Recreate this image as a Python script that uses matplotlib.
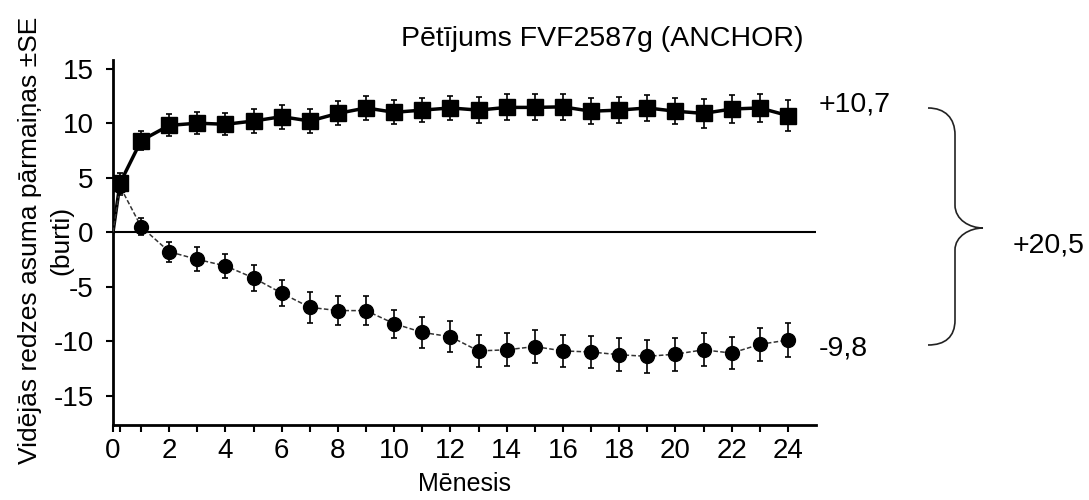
import numpy as np
import matplotlib.pyplot as plt
from matplotlib.path import Path
from matplotlib.patches import PathPatch

plt.rcParams['font.family'] = ['Liberation Sans', 'DejaVu Sans']
plt.rcParams['axes.unicode_minus'] = False

# months (0.25 = first week)
months = [0.25, 1, 2, 3, 4, 5, 6, 7, 8, 9, 10, 11, 12, 13, 14, 15, 16,
          17, 18, 19, 20, 21, 22, 23, 24]

# squares (upper series)
sq_mean = [4.5, 8.4, 9.8, 10.0, 9.9, 10.2, 10.6, 10.2, 10.9, 11.4, 11.0,
           11.2, 11.4, 11.2, 11.45, 11.45, 11.5, 11.1, 11.2, 11.4, 11.1,
           10.9, 11.3, 11.4, 10.7]
sq_se = [0.9, 0.9, 1.0, 1.0, 1.0, 1.1, 1.1, 1.1, 1.1, 1.1, 1.1, 1.1, 1.1,
         1.2, 1.2, 1.2, 1.2, 1.2, 1.2, 1.2, 1.2, 1.3, 1.3, 1.3, 1.4]

# circles (lower series)
ci_mean = [4.2, 0.5, -1.8, -2.5, -3.1, -4.2, -5.6, -6.9, -7.2, -7.2, -8.4,
           -9.2, -9.6, -10.9, -10.8, -10.5, -10.9, -11.0, -11.25, -11.4,
           -11.2, -10.8, -11.1, -10.3, -9.9]
ci_se = [0.8, 0.8, 0.9, 1.1, 1.1, 1.2, 1.2, 1.4, 1.3, 1.3, 1.3, 1.4, 1.4,
         1.5, 1.5, 1.5, 1.5, 1.5, 1.5, 1.5, 1.5, 1.5, 1.5, 1.5, 1.6]

title = 'Pētījums FVF2587g (ANCHOR)'
ylab = 'Vidējās redzes asuma pārmaiņas ±SE'
ylab2 = '(burti)'
xlab = 'Mēnesis'
end_up = '+10,7'
end_dn = '-9,8'
diff_lab = '+20,5'

fig = plt.figure(figsize=(10.89, 5), dpi=100)
ax = fig.add_axes([113/1089, 75/500, 703/1089, 365/500])

# lines from origin
ax.plot([0] + months, [0] + sq_mean, color='black', lw=2.5, zorder=3)
ax.plot([0] + months, [0] + ci_mean, color='#333333', lw=1.1,
        ls=(0, (3, 1.5)), zorder=3)

ax.errorbar(months, sq_mean, yerr=sq_se, fmt='s', color='black', ms=11.5,
            elinewidth=1.2, capsize=2.5, capthick=1.2, zorder=4)
ax.errorbar(months, ci_mean, yerr=ci_se, fmt='o', color='black', ms=10,
            elinewidth=1.2, capsize=2.5, capthick=1.2, zorder=4)

ax.axhline(0, color='black', lw=1.5, zorder=2)

ax.set_xlim(0, 25)
ax.set_ylim(-17.7, 15.8)
ax.set_yticks([15, 10, 5, 0, -5, -10, -15])
ax.set_xticks(range(0, 25, 2))
ax.set_xticks([0.25] + list(range(1, 25, 2)), minor=True)
ax.tick_params(axis='both', labelsize=20, width=1.5, length=5,
               direction='out', pad=4)
ax.tick_params(axis='y', pad=9)
ax.tick_params(axis='x', which='minor', width=1.5, length=5)
ax.spines['top'].set_visible(False)
ax.spines['right'].set_visible(False)
ax.spines['left'].set_linewidth(2)
ax.spines['bottom'].set_linewidth(2)

fig.text(602 / 1089, 1 - 39 / 500, title, fontsize=20.5, ha='center',
         va='center')

# y label in two separate lines
ax.set_ylabel(ylab, fontsize=19, va='center')
ax.yaxis.set_label_coords((30 - 113) / 703, 0.507)
ax.text((61 - 113) / 703, 0.507, ylab2, fontsize=19, rotation=90,
        ha='center', va='center', transform=ax.transAxes)

ax.set_xlabel(xlab, fontsize=18, labelpad=6)

# end labels
ax.text(25.1, sq_mean[-1] + 1.0, end_up, fontsize=20.5, va='center',
        ha='left')
ax.text(25.1, ci_mean[-1] - 0.8, end_dn, fontsize=20.5, va='center',
        ha='left')

# curly brace, drawn in figure pixels (y measured from top)
pts = [(928, 108), (945, 108), (955, 118), (955, 135),
       (955, 205),
       (955, 220), (970, 228), (983, 228),
       (970, 228), (955, 236), (955, 250),
       (955, 320),
       (955, 337), (945, 345), (928, 345)]
codes = [Path.MOVETO, Path.CURVE4, Path.CURVE4, Path.CURVE4,
         Path.LINETO,
         Path.CURVE4, Path.CURVE4, Path.CURVE4,
         Path.CURVE4, Path.CURVE4, Path.CURVE4,
         Path.LINETO,
         Path.CURVE4, Path.CURVE4, Path.CURVE4]
verts = [(px / 1089, 1 - py / 500) for px, py in pts]
brace = PathPatch(Path(verts, codes), transform=fig.transFigure,
                  fill=False, lw=1.2, edgecolor='#222222')
fig.add_artist(brace)
fig.text(1013 / 1089, 1 - 245 / 500, diff_lab, fontsize=20.5, va='center',
         ha='left')

fig.savefig('out.png', dpi=100)
